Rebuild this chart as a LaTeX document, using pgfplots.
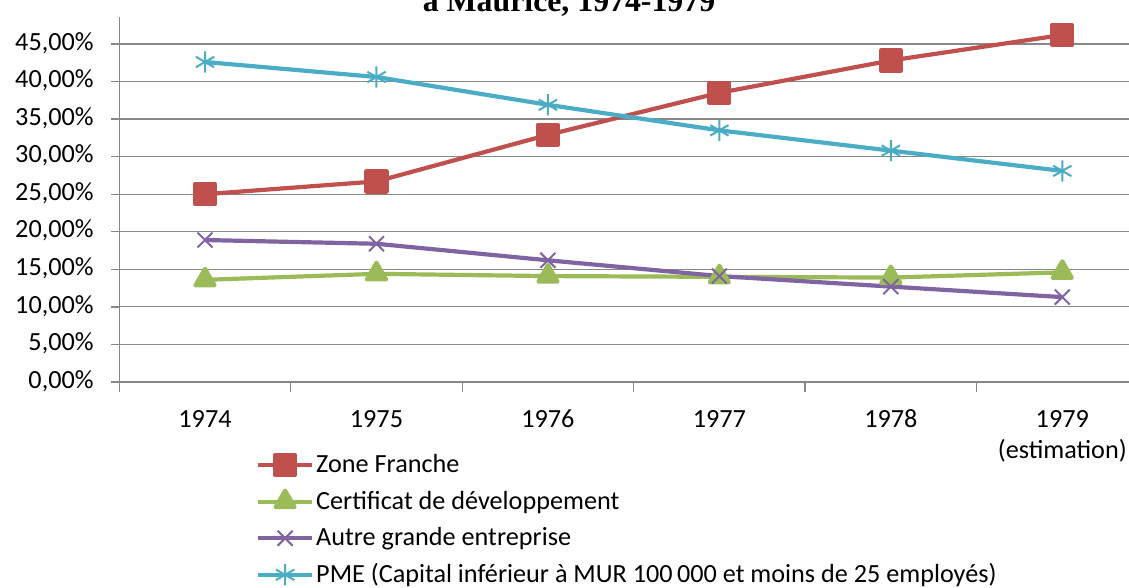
\documentclass[border=0pt]{standalone}
\usepackage{fontspec}
\setmainfont{Carlito}
\newfontfamily\titlefont{Liberation Serif}
\usepackage{pgfplots}
\pgfplotsset{compat=1.18}
\definecolor{zf}{HTML}{C0504D}
\definecolor{cd}{HTML}{9BBB59}
\definecolor{ag}{HTML}{8064A2}
\definecolor{pme}{HTML}{4BACC6}
\definecolor{gridgray}{HTML}{878787}

\begin{document}
\begin{tikzpicture}
\useasboundingbox (0,0) rectangle (564.5bp,294bp);
\clip (0,0) rectangle (564.5bp,294bp);
\begin{axis}[
    at={(59.65bp,103bp)}, anchor=south west,
    scale only axis, width=514.35bp, height=187.8bp,
    xmin=-0.5, xmax=5.5, ymin=0, ymax=50,
    axis lines=left,
    axis line style={-, draw=gridgray, line width=0.7bp},
    tick align=outside,
    tick style={draw=gridgray, line width=0.7bp},
    major tick length=4bp, minor tick length=5bp,
    xtick={0,...,5},
    xticklabels={1974,1975,1976,1977,1978,{1979\\(estimation)}},
    major x tick style={draw=none},
    minor xtick={-0.5,0.5,...,5.5},
    ytick={0,5,...,45},
    yticklabels={{0,00\%},{5,00\%},{10,00\%},{15,00\%},{20,00\%},{25,00\%},{30,00\%},{35,00\%},{40,00\%},{45,00\%}},
    ymajorgrids,
    grid style={draw=gridgray, line width=0.6bp},
    typeset ticklabels with strut,
    ticklabel style={font=\fontsize{13.1bp}{15.5bp}\selectfont, inner sep=0pt},
    yticklabel style={anchor=east, xshift=-8.65bp},
    xticklabel style={anchor=north, align=center, yshift=-7.6bp},
    legend style={at={(axis description cs:0.1329,-0.1723)}, anchor=north west,
        draw=none, fill=none, inner sep=0pt, outer sep=0pt,
        font=\fontsize{13.1bp}{15.5bp}\selectfont,
        nodes={inner sep=0pt, minimum height=18.3bp},
        row sep=0pt, /tikz/every odd column/.append style={column sep=1bp}},
    legend cell align=left,
    legend image code/.code={\draw[mark repeat=2,mark phase=2] plot coordinates {(0bp,0bp) (13.5bp,0bp) (27bp,0bp)};},
    clip=false,
]
\addplot[zf, line width=2.1bp, line join=round, mark=square*, mark size=5bp, mark options={solid}]
    coordinates {(0,25.0) (1,26.7) (2,32.9) (3,38.5) (4,42.8) (5,46.2)};
\addplot[cd, line width=2.1bp, line join=round, mark=triangle*, mark size=5.5bp, mark options={solid}]
    coordinates {(0,13.6) (1,14.4) (2,14.1) (3,14.0) (4,13.9) (5,14.6)};
\addplot[ag, line width=2.1bp, line join=round, mark=x, mark size=5.3bp, mark options={solid, line width=1bp}]
    coordinates {(0,18.9) (1,18.4) (2,16.2) (3,14.1) (4,12.7) (5,11.3)};
\addplot[pme, line width=2.1bp, line join=round, mark=asterisk, mark size=5.3bp, mark options={solid, line width=1bp}]
    coordinates {(0,42.6) (1,40.6) (2,36.9) (3,33.5) (4,30.8) (5,28.1)};
\legend{Zone Franche, Certificat de développement, Autre grande entreprise, PME (Capital inférieur à MUR 100\,000 et moins de 25 employés)}
\end{axis}
\fill[white] (0,285.7bp) rectangle (564.5bp,294bp);
\node[anchor=base, inner sep=0pt, font=\titlefont\bfseries\fontsize{15.9bp}{18bp}\selectfont] at (284.5bp,288.15bp) {à Maurice, 1974-1979};
\end{tikzpicture}
\end{document}
